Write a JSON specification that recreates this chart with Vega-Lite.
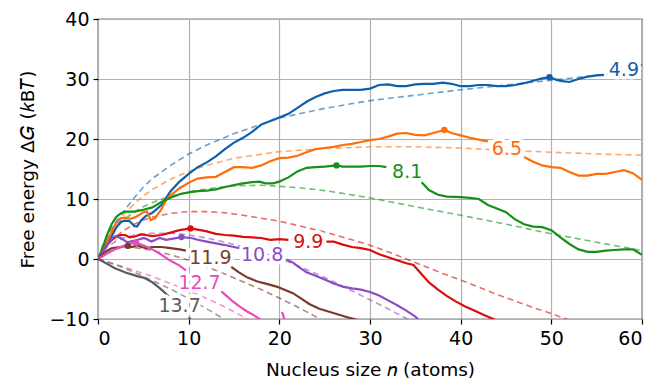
{
  "$schema": "https://vega.github.io/schema/vega-lite/v6.json",
  "width": 544,
  "height": 300,
  "autosize": {"type": "none"},
  "padding": {"left": 98, "top": 19, "right": 12, "bottom": 62},
  "background": "white",
  "config": {
    "font": "DejaVu Sans",
    "view": {"stroke": "black", "strokeWidth": 1.2},
    "axis": {
      "grid": true, "gridColor": "#b0b0b0", "gridWidth": 1.2,
      "domain": false, "ticks": true, "tickColor": "black", "tickSize": 5, "tickWidth": 1.2,
      "labelFont": "DejaVu Sans", "labelFontSize": 19, "labelColor": "black",
      "titleFont": "DejaVu Sans", "titleFontSize": 18.5, "titleFontWeight": "normal", "titleColor": "black"
    }
  },
  "datasets": {
    "solid": [
      {"s":"4.9","seg":"4.9a","n":0,"g":0},{"s":"4.9","seg":"4.9a","n":0.5,"g":1.2},{"s":"4.9","seg":"4.9a","n":1,"g":2.5},{"s":"4.9","seg":"4.9a","n":1.5,"g":3.8},{"s":"4.9","seg":"4.9a","n":2,"g":5.2},{"s":"4.9","seg":"4.9a","n":2.5,"g":6.2},{"s":"4.9","seg":"4.9a","n":3,"g":6.4},{"s":"4.9","seg":"4.9a","n":3.5,"g":6.3},{"s":"4.9","seg":"4.9a","n":4,"g":5.5},{"s":"4.9","seg":"4.9a","n":4.3,"g":5.4},{"s":"4.9","seg":"4.9a","n":4.8,"g":6.5},{"s":"4.9","seg":"4.9a","n":5.3,"g":7.2},{"s":"4.9","seg":"4.9a","n":6,"g":7.7},{"s":"4.9","seg":"4.9a","n":7,"g":9.0},{"s":"4.9","seg":"4.9a","n":8,"g":11.3},{"s":"4.9","seg":"4.9a","n":9,"g":12.9},{"s":"4.9","seg":"4.9a","n":10,"g":14.2},{"s":"4.9","seg":"4.9a","n":11,"g":15.3},{"s":"4.9","seg":"4.9a","n":12,"g":16.1},{"s":"4.9","seg":"4.9a","n":13,"g":17.1},{"s":"4.9","seg":"4.9a","n":14,"g":18.3},{"s":"4.9","seg":"4.9a","n":15,"g":19.4},{"s":"4.9","seg":"4.9a","n":16,"g":20.2},{"s":"4.9","seg":"4.9a","n":17,"g":21.2},{"s":"4.9","seg":"4.9a","n":18,"g":22.4},{"s":"4.9","seg":"4.9a","n":19,"g":23.0},{"s":"4.9","seg":"4.9a","n":20,"g":23.6},{"s":"4.9","seg":"4.9a","n":21,"g":24.2},{"s":"4.9","seg":"4.9a","n":22,"g":25.2},{"s":"4.9","seg":"4.9a","n":23,"g":26.2},{"s":"4.9","seg":"4.9a","n":24,"g":27.0},{"s":"4.9","seg":"4.9a","n":25,"g":27.6},{"s":"4.9","seg":"4.9a","n":26,"g":28.0},{"s":"4.9","seg":"4.9a","n":27,"g":28.2},{"s":"4.9","seg":"4.9a","n":28,"g":28.2},{"s":"4.9","seg":"4.9a","n":29,"g":28.2},{"s":"4.9","seg":"4.9a","n":30,"g":28.4},{"s":"4.9","seg":"4.9a","n":31,"g":29.0},{"s":"4.9","seg":"4.9a","n":32,"g":29.1},{"s":"4.9","seg":"4.9a","n":33,"g":28.8},{"s":"4.9","seg":"4.9a","n":34,"g":28.8},{"s":"4.9","seg":"4.9a","n":35,"g":29.1},{"s":"4.9","seg":"4.9a","n":36,"g":29.2},{"s":"4.9","seg":"4.9a","n":37,"g":29.2},{"s":"4.9","seg":"4.9a","n":38,"g":29.4},{"s":"4.9","seg":"4.9a","n":39,"g":29.2},{"s":"4.9","seg":"4.9a","n":40,"g":28.8},{"s":"4.9","seg":"4.9a","n":41,"g":28.8},{"s":"4.9","seg":"4.9a","n":42,"g":29.0},{"s":"4.9","seg":"4.9a","n":43,"g":29.0},{"s":"4.9","seg":"4.9a","n":44,"g":28.8},{"s":"4.9","seg":"4.9a","n":45,"g":28.8},{"s":"4.9","seg":"4.9a","n":46,"g":29.0},{"s":"4.9","seg":"4.9a","n":47,"g":29.3},{"s":"4.9","seg":"4.9a","n":48,"g":29.7},{"s":"4.9","seg":"4.9a","n":49,"g":30.1},{"s":"4.9","seg":"4.9a","n":49.8,"g":30.3},{"s":"4.9","seg":"4.9a","n":50.5,"g":29.9},{"s":"4.9","seg":"4.9a","n":51,"g":29.7},{"s":"4.9","seg":"4.9a","n":52,"g":29.5},{"s":"4.9","seg":"4.9a","n":53,"g":30.0},{"s":"4.9","seg":"4.9a","n":54,"g":30.4},{"s":"4.9","seg":"4.9a","n":55,"g":30.6},{"s":"4.9","seg":"4.9a","n":55.8,"g":30.7},
      {"s":"4.9","seg":"4.9b","n":59.6,"g":31.9},{"s":"4.9","seg":"4.9b","n":60,"g":32.4},
      {"s":"6.5","seg":"6.5a","n":0,"g":0},{"s":"6.5","seg":"6.5a","n":0.5,"g":1.5},{"s":"6.5","seg":"6.5a","n":1,"g":3.0},{"s":"6.5","seg":"6.5a","n":1.5,"g":4.5},{"s":"6.5","seg":"6.5a","n":2,"g":6.0},{"s":"6.5","seg":"6.5a","n":2.5,"g":6.8},{"s":"6.5","seg":"6.5a","n":3,"g":6.9},{"s":"6.5","seg":"6.5a","n":3.5,"g":6.7},{"s":"6.5","seg":"6.5a","n":4,"g":6.9},{"s":"6.5","seg":"6.5a","n":4.5,"g":7.3},{"s":"6.5","seg":"6.5a","n":5,"g":7.8},{"s":"6.5","seg":"6.5a","n":5.4,"g":7.9},{"s":"6.5","seg":"6.5a","n":5.8,"g":6.5},{"s":"6.5","seg":"6.5a","n":6.3,"g":6.8},{"s":"6.5","seg":"6.5a","n":7,"g":8.3},{"s":"6.5","seg":"6.5a","n":7.5,"g":9.8},{"s":"6.5","seg":"6.5a","n":8,"g":10.6},{"s":"6.5","seg":"6.5a","n":9,"g":11.8},{"s":"6.5","seg":"6.5a","n":10,"g":12.7},{"s":"6.5","seg":"6.5a","n":11,"g":13.4},{"s":"6.5","seg":"6.5a","n":12,"g":13.6},{"s":"6.5","seg":"6.5a","n":13,"g":13.7},{"s":"6.5","seg":"6.5a","n":14,"g":14.5},{"s":"6.5","seg":"6.5a","n":15,"g":15.3},{"s":"6.5","seg":"6.5a","n":16,"g":15.3},{"s":"6.5","seg":"6.5a","n":17,"g":15.2},{"s":"6.5","seg":"6.5a","n":18,"g":15.6},{"s":"6.5","seg":"6.5a","n":19,"g":16.3},{"s":"6.5","seg":"6.5a","n":20,"g":16.8},{"s":"6.5","seg":"6.5a","n":21,"g":16.9},{"s":"6.5","seg":"6.5a","n":22,"g":17.2},{"s":"6.5","seg":"6.5a","n":23,"g":17.8},{"s":"6.5","seg":"6.5a","n":24,"g":18.3},{"s":"6.5","seg":"6.5a","n":25,"g":18.5},{"s":"6.5","seg":"6.5a","n":26,"g":18.7},{"s":"6.5","seg":"6.5a","n":27,"g":19.0},{"s":"6.5","seg":"6.5a","n":28,"g":19.2},{"s":"6.5","seg":"6.5a","n":29,"g":19.5},{"s":"6.5","seg":"6.5a","n":30,"g":19.8},{"s":"6.5","seg":"6.5a","n":31,"g":20.0},{"s":"6.5","seg":"6.5a","n":32,"g":20.4},{"s":"6.5","seg":"6.5a","n":33,"g":20.9},{"s":"6.5","seg":"6.5a","n":34,"g":21.0},{"s":"6.5","seg":"6.5a","n":35,"g":20.7},{"s":"6.5","seg":"6.5a","n":36,"g":20.6},{"s":"6.5","seg":"6.5a","n":37,"g":21.0},{"s":"6.5","seg":"6.5a","n":38.2,"g":21.5},{"s":"6.5","seg":"6.5a","n":39,"g":21.0},{"s":"6.5","seg":"6.5a","n":40,"g":20.6},{"s":"6.5","seg":"6.5a","n":41,"g":20.2},{"s":"6.5","seg":"6.5a","n":42,"g":19.9},{"s":"6.5","seg":"6.5a","n":43,"g":19.6},
      {"s":"6.5","seg":"6.5b","n":47,"g":17.0},{"s":"6.5","seg":"6.5b","n":48,"g":16.2},{"s":"6.5","seg":"6.5b","n":49,"g":15.6},{"s":"6.5","seg":"6.5b","n":50,"g":15.3},{"s":"6.5","seg":"6.5b","n":51,"g":15.2},{"s":"6.5","seg":"6.5b","n":52,"g":14.5},{"s":"6.5","seg":"6.5b","n":53,"g":13.9},{"s":"6.5","seg":"6.5b","n":54,"g":13.9},{"s":"6.5","seg":"6.5b","n":55,"g":14.2},{"s":"6.5","seg":"6.5b","n":56,"g":14.2},{"s":"6.5","seg":"6.5b","n":57,"g":14.5},{"s":"6.5","seg":"6.5b","n":58,"g":14.8},{"s":"6.5","seg":"6.5b","n":59,"g":14.3},{"s":"6.5","seg":"6.5b","n":60,"g":13.2},
      {"s":"8.1","seg":"8.1a","n":0,"g":0},{"s":"8.1","seg":"8.1a","n":0.5,"g":1.8},{"s":"8.1","seg":"8.1a","n":1,"g":4.0},{"s":"8.1","seg":"8.1a","n":1.5,"g":5.8},{"s":"8.1","seg":"8.1a","n":2,"g":7.0},{"s":"8.1","seg":"8.1a","n":2.5,"g":7.6},{"s":"8.1","seg":"8.1a","n":3,"g":7.9},{"s":"8.1","seg":"8.1a","n":4,"g":7.9},{"s":"8.1","seg":"8.1a","n":5,"g":8.2},{"s":"8.1","seg":"8.1a","n":6,"g":8.6},{"s":"8.1","seg":"8.1a","n":7,"g":9.5},{"s":"8.1","seg":"8.1a","n":8,"g":10.2},{"s":"8.1","seg":"8.1a","n":9,"g":10.8},{"s":"8.1","seg":"8.1a","n":10,"g":11.1},{"s":"8.1","seg":"8.1a","n":11,"g":11.3},{"s":"8.1","seg":"8.1a","n":12,"g":11.4},{"s":"8.1","seg":"8.1a","n":13,"g":11.6},{"s":"8.1","seg":"8.1a","n":14,"g":12.0},{"s":"8.1","seg":"8.1a","n":15,"g":12.3},{"s":"8.1","seg":"8.1a","n":16,"g":12.6},{"s":"8.1","seg":"8.1a","n":17,"g":12.8},{"s":"8.1","seg":"8.1a","n":17.8,"g":12.9},{"s":"8.1","seg":"8.1a","n":18.5,"g":12.6},{"s":"8.1","seg":"8.1a","n":19.3,"g":12.6},{"s":"8.1","seg":"8.1a","n":20,"g":12.9},{"s":"8.1","seg":"8.1a","n":21,"g":13.6},{"s":"8.1","seg":"8.1a","n":22,"g":14.6},{"s":"8.1","seg":"8.1a","n":23,"g":15.2},{"s":"8.1","seg":"8.1a","n":24,"g":15.3},{"s":"8.1","seg":"8.1a","n":25,"g":15.4},{"s":"8.1","seg":"8.1a","n":26.3,"g":15.6},{"s":"8.1","seg":"8.1a","n":27,"g":15.4},{"s":"8.1","seg":"8.1a","n":28,"g":15.4},{"s":"8.1","seg":"8.1a","n":29,"g":15.4},{"s":"8.1","seg":"8.1a","n":30,"g":15.5},{"s":"8.1","seg":"8.1a","n":31,"g":15.5},{"s":"8.1","seg":"8.1a","n":31.8,"g":15.3},
      {"s":"8.1","seg":"8.1b","n":35.7,"g":12.8},{"s":"8.1","seg":"8.1b","n":36.5,"g":11.5},{"s":"8.1","seg":"8.1b","n":37.5,"g":10.7},{"s":"8.1","seg":"8.1b","n":38.5,"g":10.4},{"s":"8.1","seg":"8.1b","n":40,"g":10.3},{"s":"8.1","seg":"8.1b","n":41,"g":10.2},{"s":"8.1","seg":"8.1b","n":42,"g":10.0},{"s":"8.1","seg":"8.1b","n":43,"g":9.0},{"s":"8.1","seg":"8.1b","n":44,"g":8.4},{"s":"8.1","seg":"8.1b","n":45,"g":7.8},{"s":"8.1","seg":"8.1b","n":46,"g":6.6},{"s":"8.1","seg":"8.1b","n":47,"g":5.8},{"s":"8.1","seg":"8.1b","n":48,"g":5.4},{"s":"8.1","seg":"8.1b","n":49,"g":5.3},{"s":"8.1","seg":"8.1b","n":50,"g":4.8},{"s":"8.1","seg":"8.1b","n":51,"g":3.6},{"s":"8.1","seg":"8.1b","n":52,"g":2.5},{"s":"8.1","seg":"8.1b","n":53,"g":1.6},{"s":"8.1","seg":"8.1b","n":54,"g":1.2},{"s":"8.1","seg":"8.1b","n":55,"g":1.2},{"s":"8.1","seg":"8.1b","n":56,"g":1.4},{"s":"8.1","seg":"8.1b","n":57,"g":1.5},{"s":"8.1","seg":"8.1b","n":58,"g":1.6},{"s":"8.1","seg":"8.1b","n":59,"g":1.6},{"s":"8.1","seg":"8.1b","n":60,"g":0.7},
      {"s":"9.9","seg":"9.9a","n":0,"g":0},{"s":"9.9","seg":"9.9a","n":0.5,"g":1.2},{"s":"9.9","seg":"9.9a","n":1,"g":2.3},{"s":"9.9","seg":"9.9a","n":1.5,"g":3.2},{"s":"9.9","seg":"9.9a","n":2,"g":3.7},{"s":"9.9","seg":"9.9a","n":2.5,"g":4.0},{"s":"9.9","seg":"9.9a","n":3,"g":4.0},{"s":"9.9","seg":"9.9a","n":3.5,"g":3.6},{"s":"9.9","seg":"9.9a","n":4,"g":3.7},{"s":"9.9","seg":"9.9a","n":4.7,"g":4.1},{"s":"9.9","seg":"9.9a","n":5.3,"g":4.0},{"s":"9.9","seg":"9.9a","n":6,"g":3.8},{"s":"9.9","seg":"9.9a","n":7,"g":4.0},{"s":"9.9","seg":"9.9a","n":8,"g":4.4},{"s":"9.9","seg":"9.9a","n":9,"g":4.8},{"s":"9.9","seg":"9.9a","n":10.2,"g":5.1},{"s":"9.9","seg":"9.9a","n":11,"g":4.9},{"s":"9.9","seg":"9.9a","n":12,"g":4.6},{"s":"9.9","seg":"9.9a","n":13,"g":4.2},{"s":"9.9","seg":"9.9a","n":14,"g":4.0},{"s":"9.9","seg":"9.9a","n":15,"g":3.9},{"s":"9.9","seg":"9.9a","n":16,"g":3.7},{"s":"9.9","seg":"9.9a","n":17,"g":3.6},{"s":"9.9","seg":"9.9a","n":18,"g":3.5},{"s":"9.9","seg":"9.9a","n":19,"g":3.2},{"s":"9.9","seg":"9.9a","n":20,"g":3.3},{"s":"9.9","seg":"9.9a","n":21,"g":3.2},
      {"s":"9.9","seg":"9.9b","n":25.2,"g":2.9},{"s":"9.9","seg":"9.9b","n":26,"g":2.9},{"s":"9.9","seg":"9.9b","n":27,"g":2.4},{"s":"9.9","seg":"9.9b","n":28,"g":2.0},{"s":"9.9","seg":"9.9b","n":29,"g":1.8},{"s":"9.9","seg":"9.9b","n":30,"g":1.5},{"s":"9.9","seg":"9.9b","n":31,"g":0.8},{"s":"9.9","seg":"9.9b","n":32,"g":0.3},{"s":"9.9","seg":"9.9b","n":33,"g":-0.2},{"s":"9.9","seg":"9.9b","n":34,"g":-0.7},{"s":"9.9","seg":"9.9b","n":34.8,"g":-1.0},{"s":"9.9","seg":"9.9b","n":35.5,"g":-2.2},{"s":"9.9","seg":"9.9b","n":36.5,"g":-3.9},{"s":"9.9","seg":"9.9b","n":37.5,"g":-5.1},{"s":"9.9","seg":"9.9b","n":38.5,"g":-6.2},{"s":"9.9","seg":"9.9b","n":39.5,"g":-7.1},{"s":"9.9","seg":"9.9b","n":40.5,"g":-7.9},{"s":"9.9","seg":"9.9b","n":41.5,"g":-8.6},{"s":"9.9","seg":"9.9b","n":42.5,"g":-9.3},{"s":"9.9","seg":"9.9b","n":43.6,"g":-10.0},{"s":"9.9","seg":"9.9b","n":44,"g":-10.3},
      {"s":"10.8","seg":"10.8a","n":0,"g":0},{"s":"10.8","seg":"10.8a","n":0.5,"g":1.2},{"s":"10.8","seg":"10.8a","n":1,"g":2.3},{"s":"10.8","seg":"10.8a","n":1.5,"g":3.4},{"s":"10.8","seg":"10.8a","n":1.9,"g":3.8},{"s":"10.8","seg":"10.8a","n":2.5,"g":3.5},{"s":"10.8","seg":"10.8a","n":3.2,"g":2.8},{"s":"10.8","seg":"10.8a","n":3.8,"g":3.0},{"s":"10.8","seg":"10.8a","n":4.4,"g":3.2},{"s":"10.8","seg":"10.8a","n":5.1,"g":3.5},{"s":"10.8","seg":"10.8a","n":5.9,"g":2.9},{"s":"10.8","seg":"10.8a","n":6.8,"g":3.5},{"s":"10.8","seg":"10.8a","n":7.5,"g":3.2},{"s":"10.8","seg":"10.8a","n":8.3,"g":3.4},{"s":"10.8","seg":"10.8a","n":9.2,"g":3.65},{"s":"10.8","seg":"10.8a","n":10.3,"g":3.5},{"s":"10.8","seg":"10.8a","n":11,"g":3.2},{"s":"10.8","seg":"10.8a","n":12,"g":2.9},{"s":"10.8","seg":"10.8a","n":13,"g":2.6},{"s":"10.8","seg":"10.8a","n":14,"g":2.3},{"s":"10.8","seg":"10.8a","n":15,"g":2.0},{"s":"10.8","seg":"10.8a","n":15.6,"g":1.8},
      {"s":"10.8","seg":"10.8b","n":20.8,"g":-0.1},{"s":"10.8","seg":"10.8b","n":21.5,"g":-0.6},{"s":"10.8","seg":"10.8b","n":22.2,"g":-1.4},{"s":"10.8","seg":"10.8b","n":23,"g":-2.2},{"s":"10.8","seg":"10.8b","n":24,"g":-2.8},{"s":"10.8","seg":"10.8b","n":25,"g":-3.4},{"s":"10.8","seg":"10.8b","n":26,"g":-4.1},{"s":"10.8","seg":"10.8b","n":27,"g":-4.6},{"s":"10.8","seg":"10.8b","n":28,"g":-4.9},{"s":"10.8","seg":"10.8b","n":29,"g":-5.1},{"s":"10.8","seg":"10.8b","n":30,"g":-5.5},{"s":"10.8","seg":"10.8b","n":31,"g":-6.1},{"s":"10.8","seg":"10.8b","n":32,"g":-6.9},{"s":"10.8","seg":"10.8b","n":33,"g":-7.7},{"s":"10.8","seg":"10.8b","n":34,"g":-8.6},{"s":"10.8","seg":"10.8b","n":35,"g":-9.6},{"s":"10.8","seg":"10.8b","n":35.4,"g":-10.2},
      {"s":"11.9","seg":"11.9a","n":0,"g":0},{"s":"11.9","seg":"11.9a","n":0.5,"g":0.8},{"s":"11.9","seg":"11.9a","n":1,"g":1.4},{"s":"11.9","seg":"11.9a","n":1.5,"g":1.8},{"s":"11.9","seg":"11.9a","n":2,"g":1.9},{"s":"11.9","seg":"11.9a","n":2.5,"g":2.0},{"s":"11.9","seg":"11.9a","n":3.3,"g":2.2},{"s":"11.9","seg":"11.9a","n":3.8,"g":2.0},{"s":"11.9","seg":"11.9a","n":4.3,"g":2.3},{"s":"11.9","seg":"11.9a","n":4.8,"g":2.0},{"s":"11.9","seg":"11.9a","n":5.3,"g":1.8},{"s":"11.9","seg":"11.9a","n":6,"g":2.0},{"s":"11.9","seg":"11.9a","n":7,"g":2.0},{"s":"11.9","seg":"11.9a","n":8,"g":1.8},{"s":"11.9","seg":"11.9a","n":9,"g":1.6},{"s":"11.9","seg":"11.9a","n":9.7,"g":1.4},
      {"s":"11.9","seg":"11.9b","n":14.7,"g":-1.3},{"s":"11.9","seg":"11.9b","n":15.5,"g":-2.2},{"s":"11.9","seg":"11.9b","n":16.5,"g":-3.1},{"s":"11.9","seg":"11.9b","n":17.5,"g":-3.7},{"s":"11.9","seg":"11.9b","n":18.5,"g":-4.1},{"s":"11.9","seg":"11.9b","n":19.7,"g":-4.6},{"s":"11.9","seg":"11.9b","n":20.5,"g":-5.1},{"s":"11.9","seg":"11.9b","n":21.5,"g":-5.7},{"s":"11.9","seg":"11.9b","n":22.5,"g":-6.7},{"s":"11.9","seg":"11.9b","n":23.3,"g":-7.5},{"s":"11.9","seg":"11.9b","n":24.4,"g":-8.3},{"s":"11.9","seg":"11.9b","n":25.5,"g":-8.8},{"s":"11.9","seg":"11.9b","n":26.6,"g":-9.3},{"s":"11.9","seg":"11.9b","n":27.5,"g":-9.7},{"s":"11.9","seg":"11.9b","n":28.5,"g":-10.1},
      {"s":"12.7","seg":"12.7a","n":0,"g":0},{"s":"12.7","seg":"12.7a","n":1,"g":0.9},{"s":"12.7","seg":"12.7a","n":2,"g":1.7},{"s":"12.7","seg":"12.7a","n":3,"g":2.3},{"s":"12.7","seg":"12.7a","n":3.6,"g":2.6},{"s":"12.7","seg":"12.7a","n":4.2,"g":2.7},{"s":"12.7","seg":"12.7a","n":5,"g":2.3},{"s":"12.7","seg":"12.7a","n":6,"g":1.6},{"s":"12.7","seg":"12.7a","n":7,"g":0.7},{"s":"12.7","seg":"12.7a","n":8,"g":-0.3},{"s":"12.7","seg":"12.7a","n":9,"g":-1.1},{"s":"12.7","seg":"12.7a","n":9.7,"g":-1.9},
      {"s":"12.7","seg":"12.7b","n":13.6,"g":-5.4},{"s":"12.7","seg":"12.7b","n":14.3,"g":-6.3},{"s":"12.7","seg":"12.7b","n":14.9,"g":-7.1},{"s":"12.7","seg":"12.7b","n":15.6,"g":-7.9},{"s":"12.7","seg":"12.7b","n":16.4,"g":-8.7},{"s":"12.7","seg":"12.7b","n":17,"g":-9.2},{"s":"12.7","seg":"12.7b","n":17.5,"g":-9.7},{"s":"12.7","seg":"12.7b","n":18,"g":-10.2},
      {"s":"12.7","seg":"12.7c","n":20.3,"g":-8.8},{"s":"12.7","seg":"12.7c","n":20.6,"g":-10.2},
      {"s":"13.7","seg":"13.7a","n":0,"g":0},{"s":"13.7","seg":"13.7a","n":0.5,"g":-0.4},{"s":"13.7","seg":"13.7a","n":1,"g":-0.8},{"s":"13.7","seg":"13.7a","n":1.8,"g":-1.5},{"s":"13.7","seg":"13.7a","n":2.5,"g":-1.9},{"s":"13.7","seg":"13.7a","n":3.1,"g":-2.3},{"s":"13.7","seg":"13.7a","n":3.8,"g":-2.6},{"s":"13.7","seg":"13.7a","n":4.4,"g":-2.9},{"s":"13.7","seg":"13.7a","n":5,"g":-3.1},{"s":"13.7","seg":"13.7a","n":5.5,"g":-3.45},{"s":"13.7","seg":"13.7a","n":6,"g":-3.9},{"s":"13.7","seg":"13.7a","n":6.6,"g":-4.6},{"s":"13.7","seg":"13.7a","n":7,"g":-5.1},{"s":"13.7","seg":"13.7a","n":7.5,"g":-5.8},{"s":"13.7","seg":"13.7a","n":7.8,"g":-6.2},
      {"s":"13.7","seg":"13.7b","n":10,"g":-9.7},{"s":"13.7","seg":"13.7b","n":10.4,"g":-10.4}
    ],
    "dashed": [
      {"s":"4.9","n":0,"g":0},{"s":"4.9","n":0.5,"g":2.2},{"s":"4.9","n":1,"g":3.8},{"s":"4.9","n":2,"g":6.3},{"s":"4.9","n":3,"g":8.3},{"s":"4.9","n":4,"g":10.2},{"s":"4.9","n":5,"g":12.0},{"s":"4.9","n":6,"g":13.4},{"s":"4.9","n":8,"g":15.6},{"s":"4.9","n":10,"g":17.5},{"s":"4.9","n":12,"g":19.0},{"s":"4.9","n":15,"g":20.9},{"s":"4.9","n":20,"g":23.5},{"s":"4.9","n":25,"g":25.1},{"s":"4.9","n":30,"g":26.4},{"s":"4.9","n":35,"g":27.3},{"s":"4.9","n":40,"g":28.2},{"s":"4.9","n":45,"g":29.0},{"s":"4.9","n":50,"g":29.8},{"s":"4.9","n":55,"g":30.6},{"s":"4.9","n":60,"g":31.4},
      {"s":"6.5","n":0,"g":0},{"s":"6.5","n":0.5,"g":2.0},{"s":"6.5","n":1,"g":3.5},{"s":"6.5","n":2,"g":5.9},{"s":"6.5","n":3,"g":7.7},{"s":"6.5","n":4,"g":9.2},{"s":"6.5","n":5,"g":10.5},{"s":"6.5","n":6,"g":11.6},{"s":"6.5","n":8,"g":13.3},{"s":"6.5","n":10,"g":14.6},{"s":"6.5","n":12,"g":15.6},{"s":"6.5","n":15,"g":16.8},{"s":"6.5","n":20,"g":17.9},{"s":"6.5","n":25,"g":18.4},{"s":"6.5","n":30,"g":18.7},{"s":"6.5","n":35,"g":18.7},{"s":"6.5","n":40,"g":18.5},{"s":"6.5","n":45,"g":18.1},{"s":"6.5","n":50,"g":17.8},{"s":"6.5","n":55,"g":17.5},{"s":"6.5","n":60,"g":17.3},
      {"s":"8.1","n":0,"g":0},{"s":"8.1","n":0.5,"g":1.8},{"s":"8.1","n":1,"g":3.2},{"s":"8.1","n":2,"g":5.2},{"s":"8.1","n":3,"g":6.7},{"s":"8.1","n":4,"g":7.8},{"s":"8.1","n":5,"g":8.7},{"s":"8.1","n":6,"g":9.4},{"s":"8.1","n":8,"g":10.5},{"s":"8.1","n":10,"g":11.2},{"s":"8.1","n":12,"g":11.7},{"s":"8.1","n":15,"g":12.2},{"s":"8.1","n":18,"g":12.3},{"s":"8.1","n":20,"g":12.1},{"s":"8.1","n":22,"g":11.9},{"s":"8.1","n":25,"g":11.4},{"s":"8.1","n":30,"g":10.2},{"s":"8.1","n":35,"g":8.7},{"s":"8.1","n":40,"g":7.3},{"s":"8.1","n":45,"g":5.8},{"s":"8.1","n":50,"g":4.2},{"s":"8.1","n":55,"g":2.8},{"s":"8.1","n":60,"g":1.4},
      {"s":"9.9","n":0,"g":0},{"s":"9.9","n":0.5,"g":1.3},{"s":"9.9","n":1,"g":2.3},{"s":"9.9","n":2,"g":3.8},{"s":"9.9","n":3,"g":4.9},{"s":"9.9","n":4,"g":5.8},{"s":"9.9","n":5,"g":6.5},{"s":"9.9","n":6,"g":7.0},{"s":"9.9","n":8,"g":7.6},{"s":"9.9","n":10,"g":7.9},{"s":"9.9","n":12,"g":7.9},{"s":"9.9","n":14,"g":7.7},{"s":"9.9","n":16,"g":7.3},{"s":"9.9","n":18,"g":6.8},{"s":"9.9","n":20,"g":6.3},{"s":"9.9","n":22,"g":5.6},{"s":"9.9","n":25,"g":4.5},{"s":"9.9","n":28,"g":3.2},{"s":"9.9","n":30,"g":2.3},{"s":"9.9","n":32,"g":1.2},{"s":"9.9","n":35,"g":-0.6},{"s":"9.9","n":38,"g":-2.4},{"s":"9.9","n":40,"g":-3.5},{"s":"9.9","n":42,"g":-4.7},{"s":"9.9","n":44,"g":-5.9},{"s":"9.9","n":46,"g":-7.0},{"s":"9.9","n":48,"g":-8.1},{"s":"9.9","n":50,"g":-9.1},{"s":"9.9","n":52,"g":-10.2},
      {"s":"10.8","n":0,"g":0},{"s":"10.8","n":0.5,"g":1.2},{"s":"10.8","n":1,"g":2.0},{"s":"10.8","n":2,"g":3.0},{"s":"10.8","n":3,"g":3.6},{"s":"10.8","n":4,"g":4.0},{"s":"10.8","n":5,"g":4.2},{"s":"10.8","n":6,"g":4.3},{"s":"10.8","n":8,"g":4.3},{"s":"10.8","n":10,"g":4.0},{"s":"10.8","n":12,"g":3.5},{"s":"10.8","n":14,"g":2.8},{"s":"10.8","n":16,"g":2.0},{"s":"10.8","n":18,"g":1.1},{"s":"10.8","n":20,"g":0.1},{"s":"10.8","n":22,"g":-1.1},{"s":"10.8","n":24,"g":-2.4},{"s":"10.8","n":26,"g":-3.8},{"s":"10.8","n":28,"g":-5.3},{"s":"10.8","n":30,"g":-6.8},{"s":"10.8","n":32,"g":-8.3},{"s":"10.8","n":34,"g":-9.9},{"s":"10.8","n":34.3,"g":-10.2},
      {"s":"11.9","n":0,"g":0},{"s":"11.9","n":0.5,"g":0.8},{"s":"11.9","n":1,"g":1.2},{"s":"11.9","n":2,"g":1.7},{"s":"11.9","n":3,"g":1.9},{"s":"11.9","n":4,"g":1.9},{"s":"11.9","n":5,"g":1.7},{"s":"11.9","n":6,"g":1.4},{"s":"11.9","n":8,"g":0.7},{"s":"11.9","n":10,"g":-0.2},{"s":"11.9","n":12,"g":-1.3},{"s":"11.9","n":14,"g":-2.5},{"s":"11.9","n":16,"g":-3.8},{"s":"11.9","n":18,"g":-5.1},{"s":"11.9","n":20,"g":-6.5},{"s":"11.9","n":22,"g":-8.0},{"s":"11.9","n":24,"g":-9.6},{"s":"11.9","n":24.6,"g":-10.1},
      {"s":"12.7","n":0,"g":0},{"s":"12.7","n":1,"g":-0.4},{"s":"12.7","n":2,"g":-0.9},{"s":"12.7","n":4,"g":-1.9},{"s":"12.7","n":6,"g":-2.9},{"s":"12.7","n":8,"g":-4.1},{"s":"12.7","n":10,"g":-5.3},{"s":"12.7","n":12,"g":-6.6},{"s":"12.7","n":14,"g":-8.0},{"s":"12.7","n":16,"g":-9.6},{"s":"12.7","n":16.5,"g":-10.1},
      {"s":"13.7","n":0,"g":0},{"s":"13.7","n":1,"g":-0.5},{"s":"13.7","n":2,"g":-1.0},{"s":"13.7","n":4,"g":-2.2},{"s":"13.7","n":6,"g":-3.6},{"s":"13.7","n":8,"g":-5.0},{"s":"13.7","n":10,"g":-6.6},{"s":"13.7","n":12,"g":-8.3},{"s":"13.7","n":14,"g":-10.1}
    ],
    "peaks": [
      {"s":"4.9","n":49.8,"g":30.3},{"s":"6.5","n":38.2,"g":21.5},{"s":"8.1","n":26.3,"g":15.6},{"s":"9.9","n":10.2,"g":5.1},{"s":"10.8","n":9.2,"g":3.65},{"s":"11.9","n":3.3,"g":2.2},{"s":"12.7","n":4.2,"g":2.7}
    ],
    "labels": [
      {"s":"4.9","n":58.0,"g":31.5},{"s":"6.5","n":45.1,"g":18.3},{"s":"8.1","n":34.1,"g":14.5},{"s":"9.9","n":23.2,"g":2.8},{"s":"10.8","n":18.1,"g":0.7},{"s":"11.9","n":12.4,"g":0.1},{"s":"12.7","n":11.2,"g":-4.0},{"s":"13.7","n":9.0,"g":-7.8}
    ]
  },
  "encoding": {
    "x": {"field": "n", "type": "quantitative", "scale": {"domain": [0, 60], "nice": false, "zero": false},
          "axis": {"values": [0,10,20,30,40,50,60], "title": "Nucleus size 𝑛 (atoms)", "labelPadding": 5, "titlePadding": 12}},
    "y": {"field": "g", "type": "quantitative", "scale": {"domain": [-10, 40], "nice": false, "zero": false},
          "axis": {"values": [-10,0,10,20,30,40], "title": "Free energy Δ𝐺 (𝑘B𝑇)", "labelPadding": 4, "titlePadding": 11}},
    "color": {"field": "s", "type": "nominal", "legend": null,
              "scale": {"domain": ["4.9","6.5","8.1","9.9","10.8","11.9","12.7","13.7"],
                        "range": ["#0e5fae","#ff6e0a","#17901a","#d80f0f","#8b4cc4","#7a3b2a","#e84cbb","#5c5c5c"]}}
  },
  "layer": [
    {"data": {"name": "dashed"}, "mark": {"type": "line", "strokeDash": [6, 4], "strokeWidth": 1.6, "opacity": 0.6, "clip": true},
     "encoding": {"detail": {"field": "s"}}},
    {"data": {"name": "solid"}, "mark": {"type": "line", "strokeWidth": 2.2, "clip": true},
     "encoding": {"detail": {"field": "seg"}}},
    {"data": {"name": "peaks"}, "mark": {"type": "point", "filled": true, "size": 40, "opacity": 1}},
    {"data": {"name": "labels"}, "mark": {"type": "text", "fontSize": 19, "align": "center", "baseline": "middle", "stroke": "white", "strokeWidth": 7, "fill": "white", "strokeJoin": "round"},
     "encoding": {"text": {"field": "s"}, "color": {"value": "white"}}},
    {"data": {"name": "labels"}, "mark": {"type": "text", "fontSize": 19, "align": "center", "baseline": "middle"},
     "encoding": {"text": {"field": "s"}}}
  ]
}
